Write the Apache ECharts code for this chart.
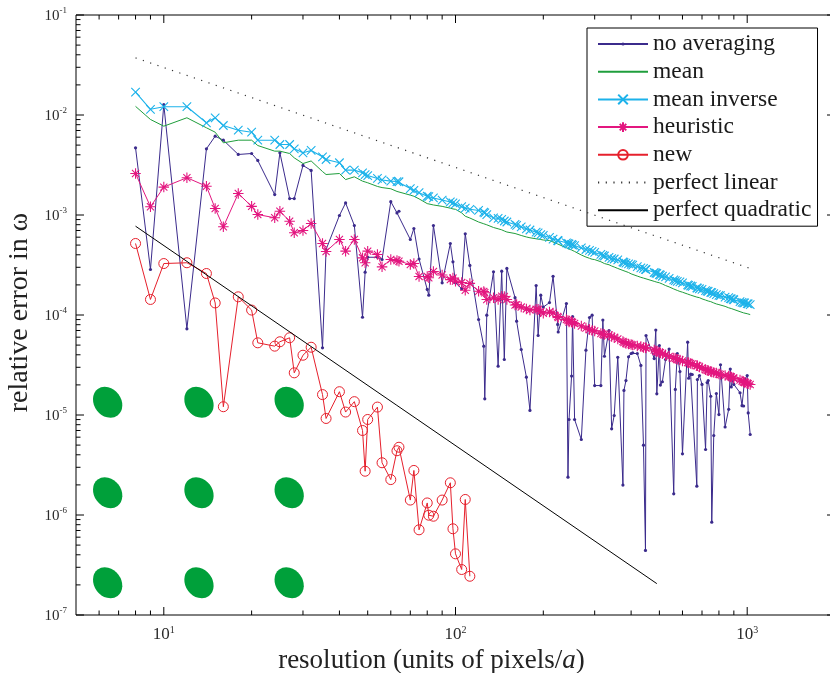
<!DOCTYPE html>
<html>
<head>
<meta charset="utf-8">
<script src="https://cdn.jsdelivr.net/npm/echarts@6/dist/echarts.min.js"></script>
<style>
html,body{margin:0;padding:0;background:#ffffff;}
#chart{width:830px;height:673px;}
</style>
</head>
<body>
<div id="chart"></div>
<script>
// ---------------- data ----------------
const resolution = [8,9,10,12,14,15,16,18,20,21,24,25,27,28,30,32,35,36,40,42,45,48,49,50,54,56,60,63,64,70,72,75,80,81,84,90,96,98,100,105,108,112,120,125,126,128,135,140,144,147,150,160,162,168,175,180,189,192,196,200,210,216,224,225,240,243,245,250,252,256,270,280,288,294,300,315,320,324,336,343,350,360,375,378,384,392,400,405,420,432,441,448,450,480,486,490,500,504,512,525,540,560,567,576,588,600,625,630,640,648,672,675,686,700,720,729,735,750,756,768,784,800,810,840,864,875,882,896,900,945,960,972,980,1000,1008,1024];

const noAveraging = [
4.70e-3,2.85e-4,1.27e-2,7.28e-5,4.59e-3,6.14e-3,5.60e-3,4.03e-3,4.12e-3,3.51e-3,
1.60e-3,4.19e-3,1.46e-3,1.46e-3,3.13e-3,2.79e-3,4.70e-5,4.52e-4,9.89e-4,1.32e-3,
7.85e-4,9.5e-5,2.68e-4,3.78e-4,3.78e-4,3.59e-4,1.36e-3,1.05e-3,1.09e-3,5.69e-4,
7.33e-4,3.63e-4,1.80e-4,1.58e-4,7.85e-4,2.10e-4,5.19e-4,3.40e-4,2.10e-4,1.83e-4,
6.49e-4,3.13e-4,9.02e-5,4.88e-5,1.45e-5,9.95e-5,2.70e-4,3.08e-5,2.74e-4,3.59e-5,
2.92e-4,1.49e-4,8.67e-5,4.52e-5,2.39e-5,1.11e-5,1.97e-4,6.24e-5,1.58e-4,1.20e-4,
1.33e-4,2.44e-4,8.04e-5,6.76e-5,1.30e-4,2.39e-6,9.02e-6,2.45e-5,9.66e-5,9.02e-6,
5.69e-6,4.45e-5,9.44e-5,9.95e-5,1.97e-5,1.97e-5,8.91e-5,3.87e-5,7.0e-5,7.28e-6,
9.89e-6,3.78e-5,1.99e-6,1.76e-5,2.21e-5,3.82e-5,4.12e-5,4.19e-5,4.12e-5,3.13e-5,
4.99e-6,4.42e-7,6.24e-5,3.67e-5,7.08e-5,1.63e-5,4.95e-5,1.99e-5,2.15e-5,3.59e-5,
4.57e-5,1.63e-6,1.80e-5,4.12e-5,2.72e-5,4.09e-6,5.35e-5,2.33e-5,2.56e-5,2.54e-5,
1.94e-6,2.26e-5,2.48e-5,2.02e-5,4.52e-6,2.11e-5,2.21e-5,1.54e-5,8.47e-7,6.24e-6,
1.64e-5,1.01e-5,3.18e-5,7.59e-6,1.14e-5,2.88e-5,1.91e-5,2.37e-5,2.02e-5,1.67e-5,
1.24e-5,1.23e-5,2.26e-5,2.48e-5,1.05e-5,6.38e-6];

const meanErr = [
1.22e-2,9.02e-3,7.73e-3,9.38e-3,7.45e-3,6.73e-3,5.27e-3,5.60e-3,5.60e-3,4.95e-3,
4.35e-3,4.35e-3,4.12e-3,3.73e-3,3.27e-3,3.47e-3,2.72e-3,2.54e-3,2.60e-3,2.26e-3,
2.41e-3,2.18e-3,2.14e-3,2.10e-3,1.93e-3,1.88e-3,1.83e-3,1.72e-3,1.67e-3,1.58e-3,
1.54e-3,1.45e-3,1.30e-3,1.29e-3,1.26e-3,1.22e-3,1.17e-3,1.15e-3,1.14e-3,1.05e-3,
9.72e-4,9.33e-4,8.51e-4,8.17e-4,8.09e-4,7.98e-4,7.50e-4,7.28e-4,7.11e-4,6.92e-4,
6.76e-4,6.53e-4,6.46e-4,6.24e-4,6.03e-4,5.92e-4,5.78e-4,5.73e-4,5.69e-4,5.62e-4,
5.56e-4,5.37e-4,5.13e-4,5.09e-4,4.70e-4,4.62e-4,4.57e-4,4.47e-4,4.42e-4,4.32e-4,
3.98e-4,3.80e-4,3.69e-4,3.61e-4,3.58e-4,3.41e-4,3.35e-4,3.27e-4,3.18e-4,3.09e-4,
3.02e-4,2.92e-4,2.79e-4,2.77e-4,2.72e-4,2.66e-4,2.58e-4,2.54e-4,2.45e-4,2.38e-4,
2.34e-4,2.32e-4,2.30e-4,2.17e-4,2.15e-4,2.13e-4,2.10e-4,2.08e-4,2.04e-4,1.97e-4,
1.91e-4,1.82e-4,1.80e-4,1.76e-4,1.72e-4,1.69e-4,1.62e-4,1.60e-4,1.58e-4,1.57e-4,
1.51e-4,1.50e-4,1.49e-4,1.45e-4,1.41e-4,1.40e-4,1.38e-4,1.36e-4,1.34e-4,1.32e-4,
1.29e-4,1.27e-4,1.26e-4,1.22e-4,1.18e-4,1.17e-4,1.16e-4,1.14e-4,1.14e-4,1.08e-4,
1.07e-4,1.05e-4,1.04e-4,1.03e-4,1.02e-4,1.01e-4];

const meanInverse = [
1.69e-2,1.14e-2,1.21e-2,1.21e-2,8.36e-3,9.38e-3,7.85e-3,7.05e-3,6.73e-3,5.60e-3,
5.60e-3,5.07e-3,5.07e-3,4.59e-3,4.19e-3,4.42e-3,3.82e-3,3.59e-3,3.33e-3,2.81e-3,
2.81e-3,2.64e-3,2.54e-3,2.48e-3,2.32e-3,2.24e-3,2.18e-3,2.16e-3,2.15e-3,1.84e-3,
1.76e-3,1.67e-3,1.54e-3,1.53e-3,1.48e-3,1.41e-3,1.35e-3,1.32e-3,1.29e-3,1.21e-3,
1.17e-3,1.14e-3,1.11e-3,1.07e-3,1.05e-3,1.01e-3,9.38e-4,9.23e-4,9.02e-4,8.71e-4,
8.51e-4,8.04e-4,7.89e-4,7.59e-4,7.28e-4,7.08e-4,6.73e-4,6.61e-4,6.38e-4,6.24e-4,
5.96e-4,5.75e-4,5.56e-4,5.52e-4,5.27e-4,5.21e-4,5.13e-4,5.07e-4,5.01e-4,4.95e-4,
4.68e-4,4.52e-4,4.42e-4,4.32e-4,4.22e-4,4.03e-4,3.94e-4,3.89e-4,3.76e-4,3.67e-4,
3.63e-4,3.55e-4,3.39e-4,3.35e-4,3.31e-4,3.25e-4,3.20e-4,3.16e-4,3.05e-4,2.96e-4,
2.92e-4,2.86e-4,2.85e-4,2.66e-4,2.63e-4,2.60e-4,2.54e-4,2.51e-4,2.44e-4,2.40e-4,
2.32e-4,2.24e-4,2.21e-4,2.17e-4,2.14e-4,2.09e-4,2.00e-4,1.98e-4,1.95e-4,1.93e-4,
1.87e-4,1.86e-4,1.83e-4,1.80e-4,1.75e-4,1.73e-4,1.72e-4,1.68e-4,1.67e-4,1.64e-4,
1.60e-4,1.57e-4,1.56e-4,1.51e-4,1.49e-4,1.46e-4,1.45e-4,1.43e-4,1.42e-4,1.36e-4,
1.34e-4,1.32e-4,1.32e-4,1.30e-4,1.29e-4,1.27e-4];

const heuristic = [
2.60e-3,1.21e-3,1.90e-3,2.36e-3,1.94e-3,1.16e-3,7.62e-4,1.64e-3,1.22e-3,1.01e-3,
9.38e-4,1.09e-3,8.67e-4,6.64e-4,7.00e-4,8.22e-4,5.19e-4,4.32e-4,5.69e-4,4.35e-4,
5.69e-4,3.73e-4,3.33e-4,4.35e-4,4.03e-4,3.03e-4,3.59e-4,3.51e-4,3.45e-4,3.20e-4,
3.27e-4,2.43e-4,2.43e-4,2.36e-4,2.72e-4,2.51e-4,2.26e-4,2.34e-4,2.18e-4,2.11e-4,
1.77e-4,2.07e-4,1.73e-4,1.72e-4,1.67e-4,1.43e-4,1.49e-4,1.43e-4,1.54e-4,1.53e-4,
1.43e-4,1.26e-4,1.27e-4,1.20e-4,1.15e-4,1.12e-4,1.14e-4,1.14e-4,1.08e-4,1.04e-4,
1.07e-4,1.05e-4,9.66e-5,9.44e-5,9.02e-5,8.81e-5,8.51e-5,8.61e-5,8.41e-5,8.22e-5,
7.76e-5,7.41e-5,7.16e-5,7.00e-5,6.92e-5,6.53e-5,6.46e-5,6.38e-5,6.31e-5,6.10e-5,
5.96e-5,5.75e-5,5.43e-5,5.31e-5,5.19e-5,5.13e-5,5.07e-5,5.01e-5,4.90e-5,4.84e-5,
4.73e-5,4.70e-5,4.68e-5,4.47e-5,4.37e-5,4.32e-5,4.22e-5,4.19e-5,4.12e-5,3.98e-5,
3.85e-5,3.72e-5,3.67e-5,3.61e-5,3.55e-5,3.47e-5,3.35e-5,3.33e-5,3.27e-5,3.24e-5,
3.13e-5,3.10e-5,3.02e-5,2.96e-5,2.83e-5,2.80e-5,2.79e-5,2.72e-5,2.69e-5,2.66e-5,
2.63e-5,2.57e-5,2.54e-5,2.48e-5,2.45e-5,2.43e-5,2.40e-5,2.34e-5,2.33e-5,2.24e-5,
2.19e-5,2.14e-5,2.11e-5,2.07e-5,2.05e-5,2.02e-5];

const newMethod = [
5.19e-4,1.43e-4,3.27e-4,3.33e-4,2.60e-4,1.32e-4,1.21e-5,1.52e-4,1.12e-4,5.27e-5,
4.88e-5,5.40e-5,5.92e-5,2.64e-5,3.96e-5,4.76e-5,1.60e-5,9.23e-6,1.71e-5,1.07e-5,
1.36e-5,7.00e-6,2.74e-6,9.02e-6,1.20e-5,3.33e-6,2.26e-6,4.39e-6,4.76e-6,1.41e-6,
2.79e-6,7.11e-7,1.32e-6,9.95e-7,9.72e-7,1.41e-6,2.10e-6,7.28e-7,4.09e-7,2.85e-7,
1.43e-6,2.44e-7];

const perfectLinear = [[8, 3.73e-2], [1024, 2.92e-4]];
const perfectQuadratic = [[8, 7.73e-4], [490, 2.06e-7]];

const ellipseX = [6.42, 13.2, 26.9];
const ellipseY = [1.34e-5, 1.67e-6, 2.10e-7];

const xMajorTicks = [10, 100, 1000];
const xMinorTicks = [6,7,8,9,20,30,40,50,60,70,80,90,200,300,400,500,600,700,800,900];
const yMajorTicks = [1e-7,1e-6,1e-5,1e-4,1e-3,1e-2,1e-1];
const yMinorTicks = [
2e-7,3e-7,4e-7,5e-7,6e-7,7e-7,8e-7,9e-7,
2e-6,3e-6,4e-6,5e-6,6e-6,7e-6,8e-6,9e-6,
2e-5,3e-5,4e-5,5e-5,6e-5,7e-5,8e-5,9e-5,
2e-4,3e-4,4e-4,5e-4,6e-4,7e-4,8e-4,9e-4,
2e-3,3e-3,4e-3,5e-3,6e-3,7e-3,8e-3,9e-3,
2e-2,3e-2,4e-2,5e-2,6e-2,7e-2,8e-2,9e-2];

const legendNames = ['no averaging','mean','mean inverse','heuristic','new','perfect linear','perfect quadratic'];

// ---------------- chart ----------------
const X_MIN = 5, X_MAX = 2000, Y_MIN = 1e-7, Y_MAX = 1e-1;
const SERIF = '"Liberation Serif","Times New Roman",Times,serif';
const C_NOAVG = '#3b2b8c', C_MEAN = '#1f9e3c', C_INV = '#1cb2ea', C_HEUR = '#e3167f', C_NEW = '#e6202c';
const NONE = 'rgba(0,0,0,0)';
const dotPath = 'path://M0,0M10,10M3.4,5A1.6,1.6,0,1,1,6.6,5A1.6,1.6,0,1,1,3.4,5Z';
const crossPath = 'path://M0,0L10,10M10,0L0,10';
const starPath = 'path://M5,0L5,10M0,5L10,5M1.6,1.6L8.4,8.4M8.4,1.6L1.6,8.4';

function pairs(xs, ys) { return ys.map(function (v, i) { return [xs[i], v]; }); }
function powLabel(v) {
  const l = Math.log10(v), e = Math.round(l);
  if (Math.abs(l - e) > 1e-6) return '';
  return '{b|10}{s|' + e + '}';
}
const ellipses = [];
ellipseY.forEach(function (y) { ellipseX.forEach(function (x) { ellipses.push([x, y]); }); });

const xTickData = xMajorTicks.map(function (v) { return [v, 1e-4, 1]; })
  .concat(xMinorTicks.map(function (v) { return [v, 1e-4, 0]; }));
const yTickData = yMajorTicks.map(function (v) { return [100, v, 1]; })
  .concat(yMinorTicks.map(function (v) { return [100, v, 0]; }));

function tickLine(x1, y1, x2, y2) {
  return { type: 'line', shape: { x1: x1, y1: y1, x2: x2, y2: y2 }, style: { stroke: '#000', lineWidth: 1 } };
}

const labelRich = function (size, supSize) {
  return {
    b: { fontFamily: SERIF, fontSize: size, color: '#2a2a2a', verticalAlign: 'bottom', lineHeight: 18 },
    s: { fontFamily: SERIF, fontSize: supSize, color: '#2a2a2a', verticalAlign: 'top', lineHeight: 9 }
  };
};

const chart = echarts.init(document.getElementById('chart'), null, { renderer: 'canvas' });
chart.setOption({
  animation: false,
  backgroundColor: '#ffffff',
  grid: { left: 76, top: 15, width: 759, height: 600, outerBoundsMode: 'none', containLabel: false,
    show: true, borderColor: '#000', borderWidth: 1, backgroundColor: NONE },
  xAxis: {
    type: 'log', logBase: 10, min: X_MIN, max: X_MAX,
    axisLine: { show: false }, axisTick: { show: false }, splitLine: { show: false }, minorTick: { show: false },
    axisLabel: { formatter: powLabel, margin: 10, rich: labelRich(17, 10), showMinLabel: true, showMaxLabel: true },
    name: 'resolution (units of pixels/{i|a})', nameLocation: 'middle', nameGap: 28,
    nameTextStyle: { fontFamily: SERIF, fontSize: 27, color: '#222', padding: [0, 48, 0, 0],
      rich: { i: { fontFamily: SERIF, fontSize: 27, fontStyle: 'italic', color: '#222' } } }
  },
  yAxis: {
    type: 'log', logBase: 10, min: Y_MIN, max: Y_MAX,
    axisLine: { show: false }, axisTick: { show: false }, splitLine: { show: false }, minorTick: { show: false },
    axisLabel: { formatter: powLabel, margin: 9, rich: labelRich(15, 9), showMinLabel: true, showMaxLabel: true },
    name: 'relative error in ω', nameLocation: 'middle', nameGap: 42, nameRotate: 90,
    nameTextStyle: { fontFamily: SERIF, fontSize: 28, color: '#222', padding: [0, 0, 0, 5] }
  },
  legend: {
    orient: 'vertical', left: 587, top: 28,
    data: legendNames,
    itemWidth: 50, itemHeight: 12, itemGap: 3.7,
    padding: [4, 6, 4, 10],
    borderColor: '#000', borderWidth: 1, borderRadius: 0, backgroundColor: '#ffffff',
    textStyle: { fontFamily: SERIF, fontSize: 23.5, color: '#1a1a1a', lineHeight: 24 },
    selectedMode: false
  },
  series: [
    { name: 'no averaging', type: 'line', data: pairs(resolution, noAveraging),
      symbol: dotPath, symbolSize: 10, showAllSymbol: true,
      lineStyle: { color: C_NOAVG, width: 1 }, itemStyle: { color: C_NOAVG }, emphasis: { disabled: true }, z: 2 },
    { name: 'mean', type: 'line', data: pairs(resolution, meanErr), symbol: 'none',
      lineStyle: { color: C_MEAN, width: 1 }, itemStyle: { color: NONE }, emphasis: { disabled: true }, z: 3 },
    { name: 'mean inverse', type: 'line', data: pairs(resolution, meanInverse),
      symbol: crossPath, symbolSize: 8.5, showAllSymbol: true,
      lineStyle: { color: C_INV, width: 1.1 }, itemStyle: { color: NONE, borderColor: C_INV, borderWidth: 1.1 }, emphasis: { disabled: true }, z: 4 },
    { name: 'heuristic', type: 'line', data: pairs(resolution, heuristic),
      symbol: starPath, symbolSize: 10.5, showAllSymbol: true,
      lineStyle: { color: C_HEUR, width: 1 }, itemStyle: { color: NONE, borderColor: C_HEUR, borderWidth: 1.1 }, emphasis: { disabled: true }, z: 5 },
    { name: 'new', type: 'line', data: pairs(resolution, newMethod),
      symbol: 'circle', symbolSize: 10, showAllSymbol: true,
      lineStyle: { color: C_NEW, width: 1 }, itemStyle: { color: NONE, borderColor: C_NEW, borderWidth: 1 }, emphasis: { disabled: true }, z: 6 },
    { name: 'perfect linear', type: 'line', data: perfectLinear, symbol: 'none',
      lineStyle: { color: '#333', width: 1.2, type: [1.2, 6.5] }, itemStyle: { color: NONE }, emphasis: { disabled: true }, z: 7 },
    { name: 'perfect quadratic', type: 'line', data: perfectQuadratic, symbol: 'none',
      lineStyle: { color: '#000', width: 1 }, itemStyle: { color: NONE }, emphasis: { disabled: true }, z: 7 },
    { type: 'scatter', data: ellipses, symbol: 'circle', symbolSize: [33, 27], symbolRotate: -53,
      itemStyle: { color: '#00a03a', opacity: 1 }, silent: true, z: 1 },
    { type: 'custom', silent: true, clip: false, z: 10, data: xTickData, encode: { x: 0, y: 1 },
      renderItem: function (params, api) {
        const x = api.value(0), len = api.value(2) === 1 ? 8 : 4.5;
        const b = api.coord([x, Y_MIN]), t = api.coord([x, Y_MAX]);
        return { type: 'group', children: [tickLine(b[0], b[1], b[0], b[1] - len), tickLine(t[0], t[1], t[0], t[1] + len)] };
      } },
    { type: 'custom', silent: true, clip: false, z: 10, data: yTickData, encode: { x: 0, y: 1 },
      renderItem: function (params, api) {
        const y = api.value(1), len = api.value(2) === 1 ? 8 : 4.5;
        const l = api.coord([X_MIN, y]), r = api.coord([X_MAX, y]);
        return { type: 'group', children: [tickLine(l[0], l[1], l[0] + len, l[1]), tickLine(r[0], r[1], r[0] - len, r[1])] };
      } }
  ]
});
</script>
</body>
</html>
